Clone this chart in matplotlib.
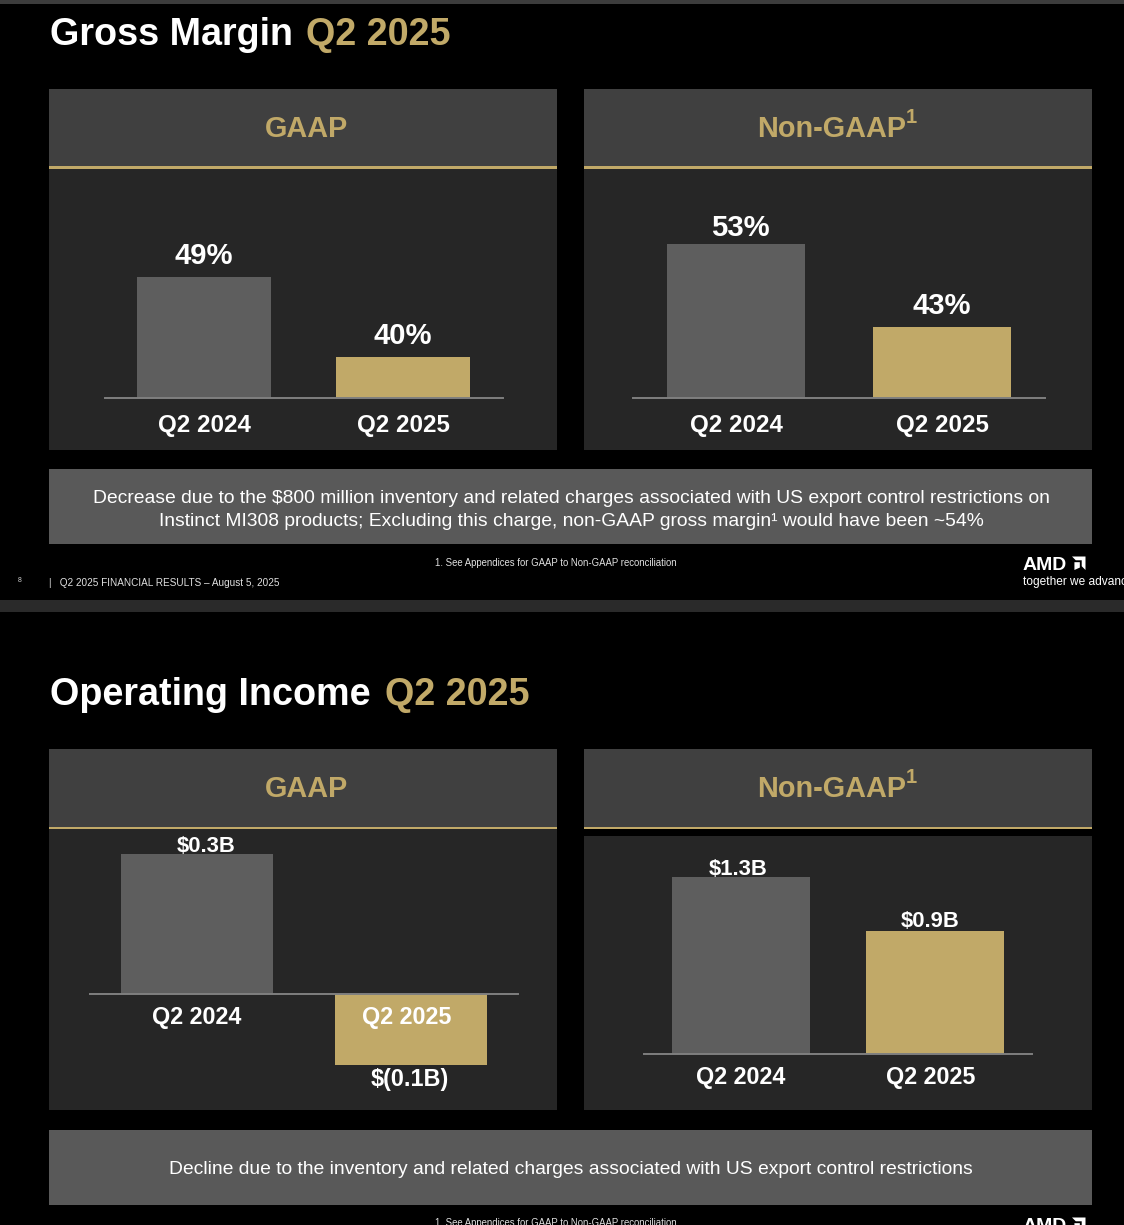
import matplotlib
matplotlib.use("Agg")
import matplotlib.pyplot as plt
from matplotlib.patches import Rectangle, Polygon

# ---------------- data ----------------
categories = ["Q2 2024", "Q2 2025"]

gm_gaap = [49, 40]
gm_gaap_labels = ["49%", "40%"]
gm_nongaap = [53, 43]
gm_nongaap_labels = ["53%", "43%"]

oi_gaap = [0.27, -0.137]
oi_gaap_labels = ["$0.3B", "$(0.1B)"]
oi_nongaap = [1.3, 0.9]
oi_nongaap_labels = ["$1.3B", "$0.9B"]

title1 = ("Gross Margin", "Q2 2025")
title2 = ("Operating Income", "Q2 2025")
note1 = ["Decrease due to the $800 million inventory and related charges associated with US export control restrictions on",
         "Instinct MI308 products; Excluding this charge, non-GAAP gross margin\u00b9 would have been ~54%"]
note2 = ["Decline due to the inventory and related charges associated with US export control restrictions"]
footnote = "1. See Appendices for GAAP to Non-GAAP reconciliation"
footer = "|   Q2 2025 FINANCIAL RESULTS \u2013 August 5, 2025"

# ---------------- style ----------------
W, H = 1124, 1225
BG = "#000000"
HEADER = "#404040"
BODY = "#262626"
NOTEBOX = "#595959"
GRAY = "#5e5e5e"
GOLD = "#c1a968"
AXLINE = "#7f7f7f"
FONT = "Liberation Sans"

fig = plt.figure(figsize=(W / 100, H / 100), dpi=100, facecolor=BG)


def fx(x):
    return x / W


def fy(y):
    return 1 - y / H


def rect(x0, y0, x1, y1, color):
    fig.add_artist(Rectangle((fx(x0), fy(y1)), (x1 - x0) / W, (y1 - y0) / H,
                             transform=fig.transFigure, facecolor=color,
                             edgecolor="none", zorder=-5))


def ftext(x, y, s, **kw):
    kw.setdefault("family", FONT)
    kw.setdefault("zorder", 5)
    return fig.text(fx(x), fy(y), s, **kw)


def poly(pts, color):
    fig.add_artist(Polygon([(fx(a), fy(b)) for a, b in pts], closed=True,
                           transform=fig.transFigure, facecolor=color,
                           edgecolor="none", zorder=5))


def amd_logo(x, y):
    # y = baseline of "AMD"
    ftext(x, y, "AMD", fontsize=14, fontweight="bold", color="white",
          va="baseline", ha="left")
    lx, ly, s = x + 49, y - 13.5, 13.5
    poly([(lx, ly), (lx + s, ly), (lx + s, ly + s), (lx + s * 0.72, ly + s * 0.72),
          (lx + s * 0.72, ly + s * 0.28), (lx + s * 0.28, ly + s * 0.28)], "white")
    poly([(lx + s * 0.18, ly + s * 0.42), (lx + s * 0.58, ly + s * 0.42),
          (lx + s * 0.58, ly + s * 0.82), (lx + s * 0.18, ly + s * 0.82 + s * 0.18)], "white")
    ftext(x, y + 15, "together we advance", fontsize=8.6,
          color="white", va="baseline", ha="left")


def panel(x0, x1, ytop, yline, ybody0, ybody1):
    rect(x0, ytop, x1, yline, HEADER)
    rect(x0, yline, x1, yline + 2.5, GOLD)
    rect(x0, ybody0, x1, ybody1, BODY)


def header_text(cx, base, txt, sup=False, right=None):
    if sup:
        ftext(right, base, txt, fontsize=20.8, fontweight="bold", color=GOLD,
              ha="right", va="baseline")
        ftext(right + 0.5, base - 13.4, "1", fontsize=14.5, fontweight="bold",
              color=GOLD, ha="left", va="baseline")
    else:
        ftext(cx, base, txt, fontsize=20.8, fontweight="bold", color=GOLD,
              ha="center", va="baseline")


def bar_chart(c0, c1, ytop, ybase, ybot, values, labels, width, ymin, ppu,
              vsize, csize, voffs, coff, vdx=(0, 0), cdx=(0, 0), neg_off=None):
    d = c1 - c0
    x0, x1 = c0 - 0.5 * d, c1 + 0.5 * d
    ax = fig.add_axes([fx(x0), fy(ybot), (x1 - x0) / W, (ybot - ytop) / H])
    ax.set_facecolor("none")
    ax.axis("off")
    ax.set_xlim(-0.5, 1.5)
    y_lo = ymin - (ybot - ybase) / ppu
    y_hi = ymin + (ybase - ytop) / ppu
    ax.set_ylim(y_lo, y_hi)
    xs = list(range(len(values)))
    bars = ax.bar(xs, values, width=width, color=[GRAY, GOLD], zorder=2)
    if ymin > 0:
        for b in bars:
            b.set_y(ymin)
            b.set_height(b.get_height() - ymin)
    ax.axhline(ymin, color=AXLINE, lw=1.4, zorder=3, clip_on=False)
    for i, (v, lab) in enumerate(zip(values, labels)):
        if v >= 0:
            ax.annotate(lab, (i, v), xytext=(vdx[i], voffs[i]), textcoords="offset pixels",
                        ha="center", va="baseline", fontsize=vsize, fontweight="bold",
                        color="white", family=FONT, annotation_clip=False, zorder=4)
        else:
            ax.annotate(lab, (i, v), xytext=(vdx[i], -neg_off), textcoords="offset pixels",
                        ha="center", va="baseline", fontsize=vsize + 1.0, fontweight="bold",
                        color="white", family=FONT, annotation_clip=False, zorder=4)
        ax.annotate(categories[i], (i, ymin), xytext=(cdx[i], -coff), textcoords="offset pixels",
                    ha="center", va="baseline", fontsize=csize, fontweight="bold",
                    color="white", family=FONT, annotation_clip=False, zorder=4)
    return ax


# ---------------- slide chrome ----------------
rect(0, 0, W, 4, "#3c3c3c")
rect(0, 600, W, 612, "#2a2a2a")

for off, (tw, tg), gold_x in [(0, title1, 306), (660, title2, 385)]:
    ftext(50, 45 + off, tw, fontsize=27.2, fontweight="bold", color="white",
          ha="left", va="baseline")
    ftext(gold_x, 45 + off, tg, fontsize=27.2, fontweight="bold", color=GOLD,
          ha="left", va="baseline")

# slide 1 panels
panel(49, 557, 89, 166, 168.5, 449.5)
panel(584, 1092, 89, 166, 168.5, 449.5)
header_text(306.5, 136.7, "GAAP")
header_text(None, 136.7, "Non-GAAP", sup=True, right=905.7)

# slide 2 panels
panel(49, 557, 749, 826.5, 829, 1110)
panel(584, 1092, 749, 826.5, 836, 1109.5)
header_text(306.5, 796.7, "GAAP")
header_text(None, 796.7, "Non-GAAP", sup=True, right=905.7)

# note boxes
rect(49, 469, 1092, 544, NOTEBOX)
ftext(571, 503, note1[0], fontsize=13.9, color="white", ha="center", va="baseline")
ftext(571, 526, note1[1], fontsize=13.9, color="white", ha="center", va="baseline")
rect(49, 1130, 1092, 1205, NOTEBOX)
ftext(570.5, 1174, note2[0], fontsize=13.9, color="white", ha="center", va="baseline")

# footers
ftext(556, 566, footnote, fontsize=6.9, color="#e0e0e0", ha="center", va="baseline")
ftext(19.5, 582, "8", fontsize=5, color="#cfcfcf", ha="center", va="baseline")
ftext(48.7, 586, footer, fontsize=7.2, color="#e0e0e0", ha="left", va="baseline")
amd_logo(1023, 570)
ftext(556, 1226, footnote, fontsize=6.9, color="#e0e0e0", ha="center", va="baseline")
amd_logo(1023, 1231)

# ---------------- charts ----------------
bar_chart(204, 403, 170, 398, 449, gm_gaap, gm_gaap_labels, 0.673,
          ymin=35.4, ppu=8.89, vsize=21.1, csize=17.4, voffs=[13, 13], coff=34)
bar_chart(736, 942, 170, 398, 449, gm_nongaap, gm_nongaap_labels, 0.67,
          ymin=34.45, ppu=8.3, vsize=21.1, csize=17.4, voffs=[8, 13], coff=34,
          vdx=(4, 0))
bar_chart(197, 411, 830, 994, 1110, oi_gaap, oi_gaap_labels, 0.71,
          ymin=0, ppu=518.5, vsize=15.8, csize=16.8, voffs=[2, 2], coff=30,
          vdx=(9, -1), cdx=(0, -4), neg_off=21)
bar_chart(741, 935, 837, 1054, 1109, oi_nongaap, oi_nongaap_labels, 0.711,
          ymin=0, ppu=136.2, vsize=15.8, csize=16.8, voffs=[2, 4], coff=30,
          vdx=(-3, -5), cdx=(0, -4))

fig.savefig("out.png", dpi=100, facecolor=BG)
